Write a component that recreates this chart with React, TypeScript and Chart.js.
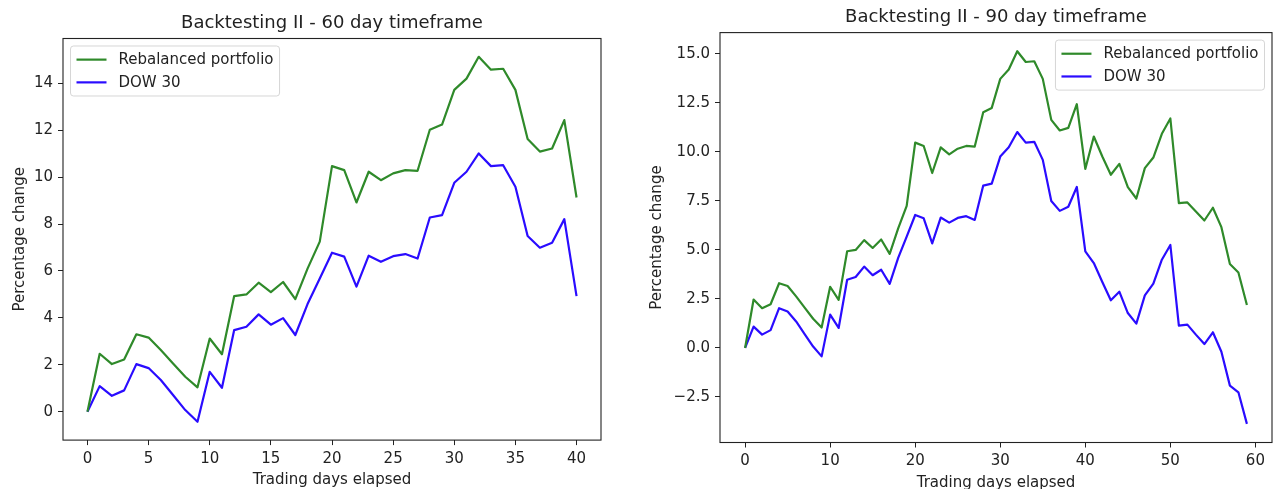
import { useEffect, useRef } from "react";
import { Chart, registerables } from "chart.js";

Chart.register(...registerables);

const FONT = "'DejaVu Sans', 'Liberation Sans', sans-serif";
const TEXT = "#222222";
const GREEN = "#2f8a2a";
const BLUE = "#2a0cff";

// ---- Data (percentage change by trading day) ----
const rebal60 = [0, 2.47, 2.03, 2.23, 3.3, 3.16, 2.63, 2.06, 1.49, 1.04, 3.12, 2.45, 4.93, 5.0, 5.5, 5.1, 5.53, 4.8, 6.1, 7.25, 10.47, 10.3, 8.92, 10.23, 9.87, 10.16, 10.3, 10.27, 12.02, 12.24, 13.72, 14.2, 15.13, 14.58, 14.62, 13.72, 11.63, 11.09, 11.22, 12.43, 9.13];
const dow60 = [0, 1.09, 0.68, 0.91, 2.03, 1.86, 1.35, 0.71, 0.07, -0.43, 1.7, 1.02, 3.48, 3.62, 4.15, 3.71, 3.99, 3.27, 4.59, 5.68, 6.78, 6.61, 5.33, 6.65, 6.39, 6.63, 6.72, 6.53, 8.28, 8.38, 9.76, 10.23, 11.01, 10.47, 10.51, 9.59, 7.49, 6.99, 7.2, 8.21, 4.93];

const rebal90 = [0, 2.47, 2.03, 2.23, 3.3, 3.16, 2.63, 2.06, 1.49, 1.04, 3.12, 2.45, 4.93, 5.0, 5.5, 5.1, 5.53, 4.8, 6.1, 7.25, 10.47, 10.3, 8.92, 10.23, 9.87, 10.16, 10.3, 10.27, 12.02, 12.24, 13.72, 14.2, 15.13, 14.58, 14.62, 13.72, 11.63, 11.09, 11.22, 12.43, 9.13, 10.78, 9.76, 8.83, 9.39, 8.2, 7.62, 9.17, 9.71, 10.92, 11.7, 7.39, 7.42, 6.96, 6.5, 7.15, 6.16, 4.28, 3.85, 2.19];
const dow90 = [0, 1.09, 0.68, 0.91, 2.03, 1.86, 1.35, 0.71, 0.07, -0.43, 1.7, 1.02, 3.48, 3.62, 4.15, 3.71, 3.99, 3.27, 4.59, 5.68, 6.78, 6.61, 5.33, 6.65, 6.39, 6.63, 6.72, 6.53, 8.28, 8.38, 9.76, 10.23, 11.01, 10.47, 10.51, 9.59, 7.49, 6.99, 7.2, 8.21, 4.93, 4.33, 3.36, 2.43, 2.87, 1.78, 1.24, 2.68, 3.28, 4.5, 5.25, 1.14, 1.19, 0.68, 0.2, 0.8, -0.19, -1.92, -2.26, -3.87];

const xTicks60 = [0, 5, 10, 15, 20, 25, 30, 35, 40];
const yTicks60 = [0, 2, 4, 6, 8, 10, 12, 14];
const xTicks90 = [0, 10, 20, 30, 40, 50, 60];
const yTicks90 = [-2.5, 0, 2.5, 5, 7.5, 10, 12.5, 15];

const seriesLabels = ["Rebalanced portfolio", "DOW 30"];
const titles = ["Backtesting II - 60 day timeframe", "Backtesting II - 90 day timeframe"];
const xLabel = "Trading days elapsed";
const yLabel = "Percentage change";

const toPoints = (vals: number[]) => vals.map((v, i) => ({ x: i, y: v }));

const decorPlugin = {
  id: "decor",
  afterDraw(chart: any, _args: any, opts: any) {
    const { ctx, chartArea: a } = chart;
    ctx.save();
    // frame
    ctx.strokeStyle = TEXT;
    ctx.lineWidth = 1.1;
    ctx.strokeRect(a.left, a.top, a.right - a.left, a.bottom - a.top);

    // title
    ctx.fillStyle = TEXT;
    ctx.font = `18px ${FONT}`;
    ctx.textAlign = "center";
    ctx.textBaseline = "alphabetic";
    ctx.fillText(opts.title, (a.left + a.right) / 2, a.top - 11);

    // x label
    ctx.font = `15px ${FONT}`;
    ctx.textBaseline = "top";
    ctx.fillText(xLabel, (a.left + a.right) / 2, a.bottom + 33);

    // y label
    const yScale = chart.scales.y;
    let maxW = 0;
    for (const t of yScale.ticks) {
      const w = ctx.measureText(String(t.label)).width;
      if (w > maxW) maxW = w;
    }
    const xr = a.left - 10 - maxW - 6 - (opts.yLabelShift || 0);
    ctx.save();
    ctx.translate(xr, (a.top + a.bottom) / 2);
    ctx.rotate(-Math.PI / 2);
    ctx.textAlign = "center";
    ctx.textBaseline = "bottom";
    ctx.fillText(yLabel, 0, 0);
    ctx.restore();

    // legend
    const fs = 15;
    ctx.font = `${fs}px ${FONT}`;
    let tw = 0;
    for (const l of seriesLabels) tw = Math.max(tw, ctx.measureText(l).width);
    const pad = 6, handle = 30, htp = 12, rowH = 15.25, spacing = 7.5;
    const w = pad + handle + htp + tw + pad;
    const h = pad * 2 + rowH * 2 + spacing;
    const lx = opts.legendRight ? a.right - 7.5 - w : a.left + 7.5;
    const ly = a.top + 7.5;
    ctx.beginPath();
    if (ctx.roundRect) ctx.roundRect(lx, ly, w, h, 3);
    else ctx.rect(lx, ly, w, h);
    ctx.fillStyle = "rgba(255,255,255,0.8)";
    ctx.fill();
    ctx.strokeStyle = "rgba(204,204,204,0.8)";
    ctx.lineWidth = 1;
    ctx.stroke();
    const colors = [GREEN, BLUE];
    seriesLabels.forEach((l, i) => {
      const cy = ly + pad + rowH / 2 + i * (rowH + spacing);
      ctx.strokeStyle = colors[i];
      ctx.lineWidth = 2.2;
      ctx.beginPath();
      ctx.moveTo(lx + pad, cy);
      ctx.lineTo(lx + pad + handle, cy);
      ctx.stroke();
      ctx.fillStyle = TEXT;
      ctx.textAlign = "left";
      ctx.textBaseline = "middle";
      ctx.fillText(l, lx + pad + handle + htp, cy + 0.5);
    });
    ctx.restore();
  },
};

type PanelProps = {
  left: number;
  rebal: number[];
  dow: number[];
  xMin: number;
  xMax: number;
  yMin: number;
  yMax: number;
  xTicks: number[];
  yTicks: number[];
  yFmt: (v: number) => string;
  yW: number;
  pad: { left: number; right: number; top: number; bottom: number };
  title: string;
  legendRight: boolean;
  yLabelShift: number;
};

function Panel(p: PanelProps) {
  const ref = useRef<HTMLCanvasElement | null>(null);
  useEffect(() => {
    if (!ref.current) return;
    const tickFont = { size: 15, family: FONT };
    const chart = new Chart(ref.current, {
      type: "line",
      data: {
        datasets: [
          {
            label: seriesLabels[0],
            data: toPoints(p.rebal),
            borderColor: GREEN,
            backgroundColor: GREEN,
            borderWidth: 2.2,
            pointRadius: 0,
            tension: 0,
            borderJoinStyle: "round",
          },
          {
            label: seriesLabels[1],
            data: toPoints(p.dow),
            borderColor: BLUE,
            backgroundColor: BLUE,
            borderWidth: 2.2,
            pointRadius: 0,
            tension: 0,
            borderJoinStyle: "round",
          },
        ],
      },
      options: {
        animation: false,
        responsive: false,
        devicePixelRatio: 1,
        layout: { padding: p.pad },
        plugins: {
          legend: { display: false },
          title: { display: false },
          tooltip: { enabled: false },
          decor: { title: p.title, legendRight: p.legendRight, yLabelShift: p.yLabelShift },
        } as any,
        scales: {
          x: {
            type: "linear",
            min: p.xMin,
            max: p.xMax,
            afterBuildTicks: (s: any) => {
              s.ticks = p.xTicks.map((v) => ({ value: v }));
            },
            afterFit: (s: any) => {
              s.height = 30;
            },
            grid: { drawOnChartArea: false, drawTicks: true, tickLength: 5, color: TEXT, lineWidth: 1 },
            border: { display: false },
            ticks: { padding: 5, color: TEXT, font: tickFont, maxRotation: 0, autoSkip: false, callback: (v: any) => String(v) },
          },
          y: {
            type: "linear",
            min: p.yMin,
            max: p.yMax,
            afterBuildTicks: (s: any) => {
              s.ticks = p.yTicks.map((v) => ({ value: v }));
            },
            afterFit: (s: any) => {
              s.width = p.yW;
            },
            grid: { drawOnChartArea: false, drawTicks: true, tickLength: 5, color: TEXT, lineWidth: 1 },
            border: { display: false },
            ticks: { padding: 5, color: TEXT, font: tickFont, autoSkip: false, callback: (v: any) => p.yFmt(Number(v)) },
          },
        },
      } as any,
      plugins: [decorPlugin as any],
    });
    return () => chart.destroy();
  }, []);
  return (
    <canvas
      ref={ref}
      width={637}
      height={489}
      style={{ position: "absolute", left: p.left, top: 0, width: 637, height: 489 }}
    />
  );
}

export default function App() {
  return (
    <div style={{ position: "absolute", left: 0, top: 0, width: 1274, height: 489, background: "#fff", overflow: "hidden" }}>
      <Panel
        left={0}
        rebal={rebal60}
        dow={dow60}
        xMin={-2}
        xMax={42}
        yMin={-1.21}
        yMax={15.91}
        xTicks={xTicks60}
        yTicks={yTicks60}
        yFmt={(v) => String(v)}
        yW={63}
        pad={{ left: 0, right: 36, top: 38.5, bottom: 18.9 }}
        title={titles[0]}
        legendRight={false}
        yLabelShift={0}
      />
      <Panel
        left={637}
        rebal={rebal90}
        dow={dow90}
        xMin={-2.95}
        xMax={61.95}
        yMin={-4.82}
        yMax={16.08}
        xTicks={xTicks90}
        yTicks={yTicks90}
        yFmt={(v) => v.toFixed(1).replace("-", "\u2212")}
        yW={83}
        pad={{ left: 0, right: 2, top: 32.6, bottom: 16.5 }}
        title={titles[1]}
        legendRight={true}
        yLabelShift={3}
      />
    </div>
  );
}
